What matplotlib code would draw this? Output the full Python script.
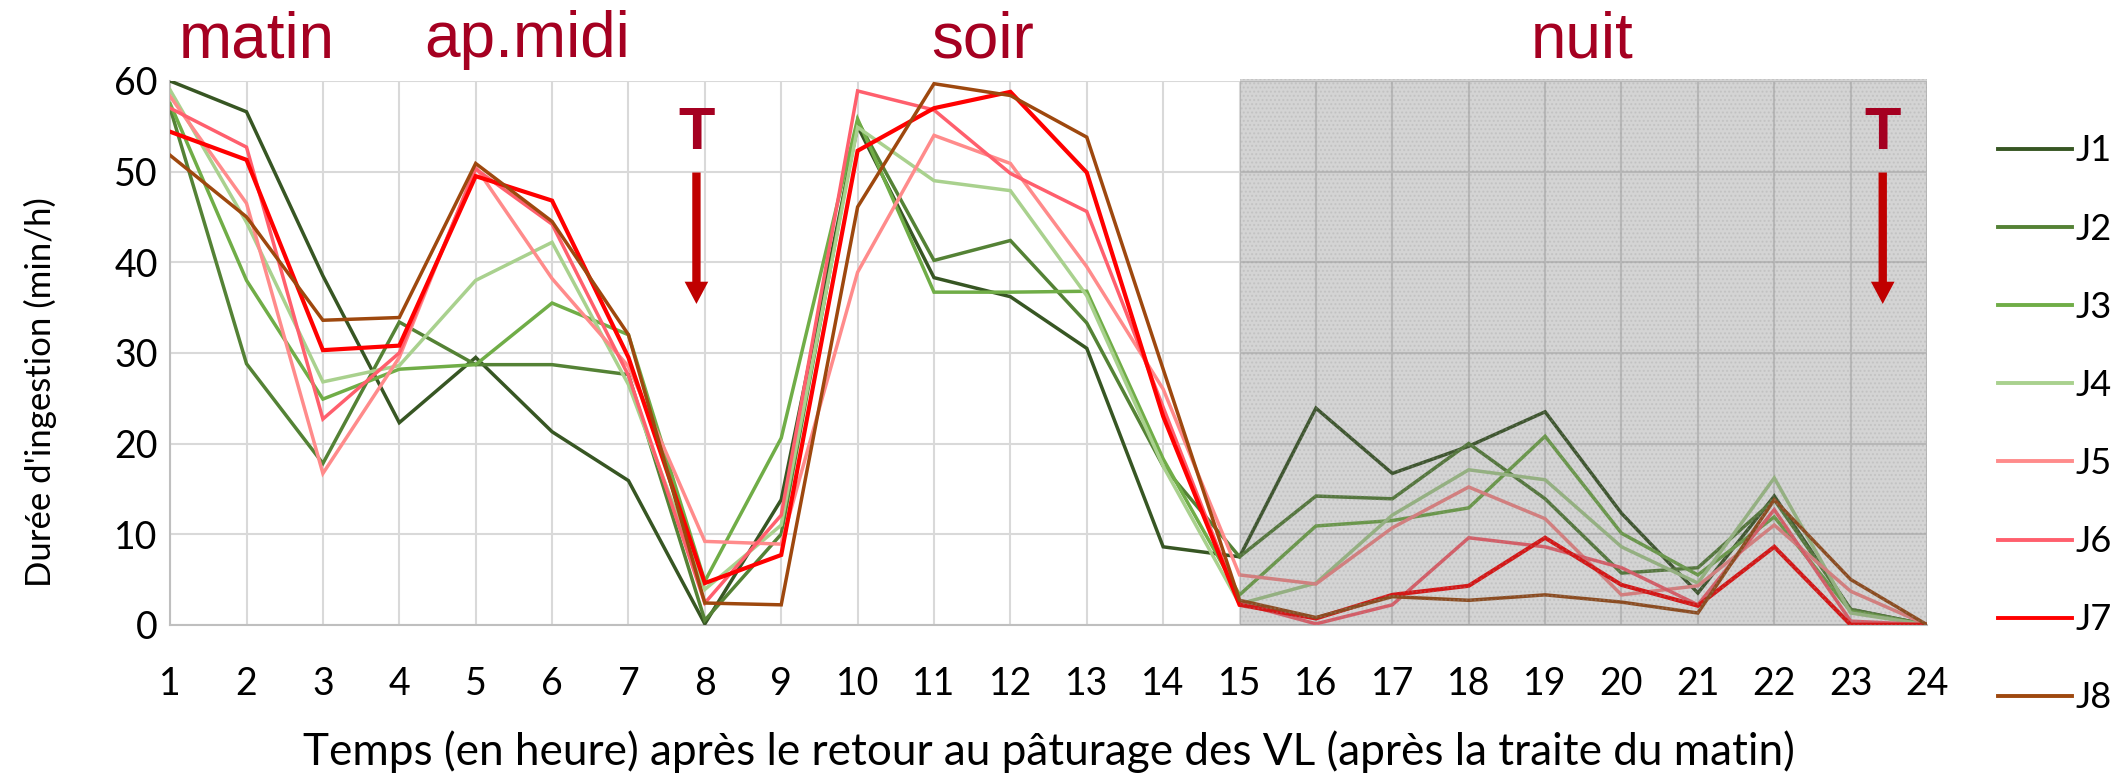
import matplotlib
matplotlib.use("Agg")
import matplotlib.pyplot as plt
from matplotlib.patches import Rectangle
from matplotlib.lines import Line2D
import numpy as np

# heures après le retour au pâturage
hours = list(range(1, 25))

j1 = [60, 56.6, 38.5, 22.3, 29.5, 21.3, 15.9, 0.1, 13.8, 55.0, 38.3, 36.2,
      30.5, 8.6, 7.5, 23.9, 16.7, 19.7, 23.5, 12.3, 3.5, 14.2, 1.7, 0]
j2 = [57.0, 28.8, 17.8, 33.4, 28.7, 28.7, 27.6, 0.5, 10.0, 55.6, 40.2, 42.4,
      33.3, 17.5, 7.5, 14.2, 13.9, 20.0, 13.9, 5.7, 6.3, 13.8, 1.7, 0]
j3 = [57.5, 38.0, 24.9, 28.2, 28.7, 35.5, 32.0, 4.8, 20.6, 55.8, 36.7, 36.7,
      36.8, 18.3, 3.3, 10.9, 11.5, 12.9, 20.8, 10.1, 5.5, 11.9, 1.5, 0]
j4 = [59.0, 44.4, 26.8, 28.6, 38.0, 42.2, 26.5, 3.9, 11.0, 54.9, 49.0, 47.9,
      36.3, 17.5, 2.3, 4.6, 12.1, 17.1, 16.0, 8.6, 4.6, 16.2, 1.3, 0]
j5 = [58.3, 46.5, 16.7, 29.5, 50.5, 38.2, 28.5, 9.2, 8.9, 38.9, 54.0, 50.9,
      39.5, 26.0, 5.5, 4.5, 10.7, 15.2, 11.7, 3.3, 4.3, 11.0, 3.7, 0]
j6 = [57.0, 52.7, 22.7, 30.0, 50.3, 44.2, 27.5, 2.4, 12.1, 58.9, 56.8, 49.8,
      45.6, 24.0, 2.4, 0.1, 2.2, 9.6, 8.6, 6.3, 2.2, 12.7, 0.4, 0]
j7 = [54.4, 51.3, 30.3, 30.8, 49.5, 46.8, 29.5, 4.6, 7.7, 52.3, 57.0, 58.8,
      49.9, 23.0, 2.2, 0.7, 3.3, 4.3, 9.6, 4.4, 2.1, 8.6, 0, 0]
j8 = [51.8, 45.0, 33.6, 33.9, 50.9, 44.5, 32.0, 2.4, 2.2, 46.1, 59.7, 58.4,
      53.8, 28.2, 2.7, 0.8, 3.1, 2.7, 3.3, 2.5, 1.3, 13.8, 5.0, 0]

series = [j1, j2, j3, j4, j5, j6, j7, j8]
names = ["J1", "J2", "J3", "J4", "J5", "J6", "J7", "J8"]
colors = ["#375623", "#548235", "#70AD47", "#A9D18E",
          "#FF8B8B", "#FF5F6D", "#FF0000", "#9E480E"]

periods = ["matin", "ap.midi", "soir", "nuit"]
period_x = [2.13, 5.68, 11.63, 19.48]

dark_red = "#A50021"
body_font = ["Lato", "DejaVu Sans"]

fig = plt.figure(figsize=(21.16, 7.84), dpi=100)
ax = fig.add_axes([0.0804, 0.2031, 0.8303, 0.6936])

for vals, name, col in zip(series, names, colors):
    lw = 3.0 if name == "J7" else 2.5
    ax.plot(hours, vals, color=col, lw=lw, label=name, zorder=3,
            solid_joinstyle="miter")

ax.set_xlim(1, 24)
ax.set_ylim(0, 60)
ax.set_xticks(hours)
ax.set_yticks(range(0, 61, 10))
ax.grid(True, color="#D9D9D9", lw=1.5)
ax.set_axisbelow(True)
for s in ["top", "right"]:
    ax.spines[s].set_visible(False)
for s in ["left", "bottom"]:
    ax.spines[s].set_color("#BFBFBF")
    ax.spines[s].set_linewidth(1.5)
ax.tick_params(axis="both", length=0, labelsize=27)
ax.tick_params(axis="x", pad=30)
ax.tick_params(axis="y", pad=9)
for lab in ax.get_xticklabels() + ax.get_yticklabels():
    lab.set_family(body_font)

# période nocturne grisée
night = Rectangle((15, 0), 9, 60.25, facecolor=(0.35, 0.35, 0.35, 0.26),
                  edgecolor=(0.6, 0.6, 0.6, 0.25), hatch="....",
                  lw=0, zorder=5, clip_on=False)
ax.add_patch(night)

for txt, xp in zip(periods, period_x):
    ax.text(xp, 62.6, txt, ha="center", va="baseline", fontsize=46,
            color=dark_red, family="Liberation Sans", clip_on=False)

# traites
for xp in [7.89, 23.42]:
    ax.text(xp, 52.5, "T", ha="center", va="baseline", fontsize=43,
            fontweight="bold", color=dark_red, family="Liberation Sans",
            zorder=6)
    ax.annotate("", xy=(xp, 35.4), xytext=(xp, 49.9),
                arrowprops=dict(facecolor="#C00000", edgecolor="none",
                                width=6, headwidth=17, headlength=16),
                zorder=6)

fig.text(0.4955, 0.041, "Temps (en heure) après le retour au pâturage des VL (après la traite du matin)",
         ha="center", va="center", fontsize=31.8, family=body_font)
fig.text(0.019, 0.500, "Durée d'ingestion (min/h)", ha="center", va="center",
         rotation=90, fontsize=25, family=body_font)

handles = [Line2D([], [], color=c, lw=2.8) for c in colors]
fig.legend(handles, names, loc="center left", bbox_to_anchor=(0.944, 0.4586),
           frameon=False, prop={"family": body_font, "size": 26},
           handlelength=2.05, handletextpad=0.1, labelspacing=1.25,
           borderaxespad=0, borderpad=0)

fig.savefig("out.png", dpi=100)
